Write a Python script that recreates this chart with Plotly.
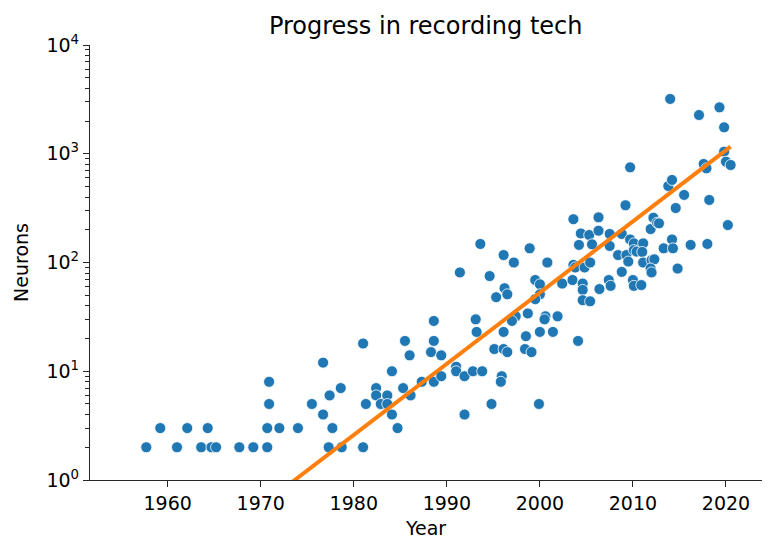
import numpy as np
import plotly.graph_objects as go


# Recording studies: year and number of neurons recorded simultaneously
years = [
    1957.7, 1959.2, 1961.0, 1962.1, 1963.6, 1964.3, 1964.7, 1965.2, 1967.7, 1969.2,
    1970.7, 1970.7, 1970.9, 1970.9, 1972.0, 1974.0, 1975.5, 1976.7, 1976.7, 1977.4,
    1977.7, 1977.3, 1978.6, 1978.7, 1981.0, 1981.3, 1981.0, 1982.4, 1982.4, 1982.9,
    1983.6, 1983.6, 1984.1, 1984.1, 1984.7, 1985.3, 1985.5, 1986.0, 1986.1, 1987.3,
    1988.6, 1988.6, 1988.6, 1988.3, 1989.4, 1989.4, 1991.0, 1991.0, 1991.4, 1991.9,
    1991.9, 1992.8, 1993.1, 1993.2, 1993.8, 1993.6, 1994.6, 1994.8, 1995.3, 1995.1,
    1995.9, 1995.8, 1996.1, 1996.2, 1996.5, 1996.1, 1996.5, 1996.1, 1997.2, 1997.4,
    1997.0, 1998.9, 1998.7, 1998.5, 1998.4, 1999.1, 1999.5, 2000.0, 2000.0, 1999.5,
    2000.0, 1999.9, 2000.8, 2000.6, 2000.5, 2001.4, 2001.9, 2002.4, 2003.5, 2003.6,
    2003.8, 2003.6, 2004.1, 2004.2, 2004.4, 2004.8, 2004.6, 2004.6, 2004.6, 2005.4,
    2005.3, 2005.4, 2005.6, 2006.3, 2006.3, 2006.4, 2007.5, 2007.5, 2007.4, 2007.6,
    2008.4, 2008.8, 2008.8, 2009.2, 2009.3, 2009.5, 2009.7, 2009.7, 2010.1, 2010.1,
    2010.4, 2010.0, 2010.1, 2010.9, 2011.1, 2011.0, 2011.1, 2011.9, 2012.0, 2012.3,
    2011.9, 2012.0, 2012.2, 2012.6, 2012.8, 2013.3, 2013.8, 2014.2, 2014.0, 2014.2,
    2014.3, 2014.6, 2014.8, 2015.5, 2016.2, 2017.1, 2017.6, 2017.9, 2018.0, 2018.2,
    2019.3, 2019.8, 2019.8, 2020.0, 2020.5, 2020.2,
]
neurons = [
    2, 3, 2, 3, 2, 3, 2, 2, 2, 2,
    2, 3, 5, 8, 3, 3, 5, 12, 4, 6,
    3, 2, 7, 2, 18, 5, 2, 7, 6, 5,
    6, 5, 10, 4, 3, 7, 19, 14, 6, 8,
    8, 29, 19, 15, 14, 9, 11, 10, 81, 9,
    4, 10, 30, 23, 10, 148, 75, 5, 48, 16,
    9, 8, 117, 58, 51, 16, 15, 23, 100, 32,
    29, 135, 34, 21, 16, 15, 69, 63, 51, 46,
    23, 5, 100, 32, 30, 23, 32, 64, 69, 95,
    90, 250, 19, 145, 185, 90, 64, 56, 45, 44,
    179, 100, 147, 260, 196, 57, 183, 142, 69, 61,
    117, 183, 82, 336, 117, 102, 163, 750, 150, 130,
    126, 69, 61, 62, 150, 125, 100, 203, 105, 107,
    88, 81, 258, 232, 229, 135, 505, 574, 3190, 163,
    135, 317, 88, 418, 145, 2270, 805, 735, 148, 376,
    2670, 1750, 1045, 845, 788, 221,
]

y_ticks = [1, 10, 100, 1000, 10000]
y_tick_labels = ["10<sup>0</sup>", "10<sup>1</sup>", "10<sup>2</sup>", "10<sup>3</sup>", "10<sup>4</sup>"]
x_ticks = [1960, 1970, 1980, 1990, 2000, 2010, 2020]

BLUE = "#1f77b4"
ORANGE = "#ff7f0e"
AXIS = "#262626"

# Exponential trend from a Poisson (log-link) regression, fitted by IRLS
x = np.array(years)
y = np.array(neurons, dtype=float)
xc = x - x.mean()
X = np.column_stack([np.ones_like(xc), xc])
beta = np.linalg.lstsq(X, np.log(y), rcond=None)[0]
for _ in range(50):
    mu = np.exp(X @ beta)
    z = X @ beta + (y - mu) / mu
    w = np.sqrt(mu)
    beta = np.linalg.lstsq(X * w[:, None], z * w, rcond=None)[0]
grid = np.linspace(x.min(), x.max(), 200)
trend = np.exp(beta[0] + beta[1] * (grid - x.mean()))

fig = go.Figure()

fig.add_trace(go.Scatter(
    x=years, y=neurons, mode="markers",
    marker=dict(color=BLUE, size=11, line=dict(color="white", width=0.8)),
))

fig.add_trace(go.Scatter(
    x=grid, y=trend, mode="lines",
    line=dict(color=ORANGE, width=4),
))

minor_vals = [m * 10 ** d for d in range(4) for m in range(2, 10)]

# the html page adds an 8px body margin, so the plot box is shifted up/left by 8px here
fig.update_layout(
    width=775, height=554,
    margin=dict(l=82, r=21, t=37, b=82),
    paper_bgcolor="white", plot_bgcolor="white",
    showlegend=False,
    font=dict(family="DejaVu Sans", size=19, color="black"),
    title=dict(text="Progress in recording tech", x=0.539, xanchor="center",
               xref="container", yref="container", y=0.969, yanchor="middle",
               font=dict(size=24)),
)

fig.update_xaxes(
    range=[1951.65, 2023.87],
    tickvals=x_ticks,
    ticks="outside", ticklen=6, tickwidth=1.3, tickcolor=AXIS,
    showline=True, linecolor=AXIS, linewidth=1.3,
    showgrid=False, zeroline=False, automargin=False,
    title=dict(text="Year", font=dict(size=19), standoff=8),
)

fig.update_yaxes(
    type="log", range=[0, 4],
    tickvals=y_ticks, ticktext=y_tick_labels,
    ticks="outside", ticklen=6, tickwidth=1.3, tickcolor=AXIS,
    minor=dict(tickvals=minor_vals, ticks="outside", ticklen=3.5, tickwidth=1, tickcolor=AXIS),
    showline=True, linecolor=AXIS, linewidth=1.3,
    showgrid=False, zeroline=False, automargin=False,
    title=dict(text="Neurons", font=dict(size=19), standoff=12),
)

fig.write_html("out.html")
